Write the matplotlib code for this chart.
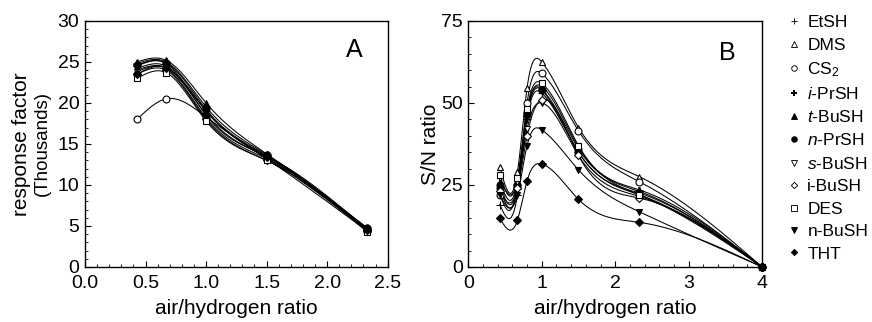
import numpy as np
import matplotlib
matplotlib.use("Agg")
import matplotlib.pyplot as plt
from matplotlib.lines import Line2D
from matplotlib.ticker import MultipleLocator

plt.rcParams["font.family"] = ["Liberation Sans", "DejaVu Sans"]
plt.rcParams["mathtext.fontset"] = "custom"
plt.rcParams["mathtext.rm"] = "Liberation Sans"
plt.rcParams["mathtext.it"] = "Liberation Sans:italic"

# ---------------------------------------------------------------- data
compounds = ["EtSH", "DMS", "CS$_2$", "$i$-PrSH", "$t$-BuSH", "$n$-PrSH",
             "$s$-BuSH", "i-BuSH", "DES", "n-BuSH", "THT"]

# panel A: response factor (thousands)
ratio_a = [0.43, 0.67, 1.0, 1.5, 2.33]
resp_etsh  = [24.5, 24.8, 18.5, 13.5, 4.6]
resp_dms   = [24.0, 24.3, 19.0, 13.3, 4.5]
resp_cs2   = [18.0, 20.5, 18.3, 13.2, 4.4]
resp_iprsh = [24.8, 25.0, 19.5, 13.7, 4.7]
resp_tbush = [25.0, 25.2, 20.0, 13.8, 4.8]
resp_nprsh = [24.6, 24.9, 19.2, 13.6, 4.7]
resp_sbush = [23.8, 24.2, 18.2, 13.2, 4.5]
resp_ibush = [23.5, 24.0, 18.0, 13.0, 4.4]
resp_des   = [23.0, 23.7, 17.8, 13.0, 4.3]
resp_nbush = [24.2, 24.5, 19.0, 13.5, 4.6]
resp_tht   = [23.5, 24.3, 18.6, 13.4, 4.5]

# panel B: S/N ratio
ratio_b = [0.43, 0.67, 0.8, 1.0, 1.5, 2.33, 4.0]
sn_etsh  = [19.0, 22.0, 45.0, 53.0, 35.0, 22.0, 0.0]
sn_dms   = [30.5, 29.0, 54.5, 62.5, 42.5, 27.5, 0.0]
sn_cs2   = [22.0, 25.0, 50.0, 59.0, 41.5, 26.0, 0.0]
sn_iprsh = [24.0, 24.0, 46.0, 54.0, 36.0, 23.0, 0.0]
sn_tbush = [26.0, 26.0, 47.0, 55.0, 36.5, 23.5, 0.0]
sn_nprsh = [25.0, 25.0, 47.0, 54.0, 35.0, 22.5, 0.0]
sn_sbush = [27.0, 26.0, 42.0, 50.0, 34.0, 21.5, 0.0]
sn_ibush = [23.0, 24.0, 40.0, 51.0, 34.0, 21.0, 0.0]
sn_des   = [28.0, 27.0, 48.0, 56.0, 37.0, 22.0, 0.0]
sn_nbush = [22.0, 22.0, 37.0, 41.8, 29.6, 16.8, 0.0]
sn_tht   = [14.8, 14.3, 26.2, 31.4, 20.6, 13.6, 0.0]

resp_all = [resp_etsh, resp_dms, resp_cs2, resp_iprsh, resp_tbush, resp_nprsh,
            resp_sbush, resp_ibush, resp_des, resp_nbush, resp_tht]
sn_all = [sn_etsh, sn_dms, sn_cs2, sn_iprsh, sn_tbush, sn_nprsh,
          sn_sbush, sn_ibush, sn_des, sn_nbush, sn_tht]

# marker, size, filled, edge width
styles = [("+", 6, True, 0.8), ("^", 5, False, 0.8), ("o", 5, False, 0.8),
          ("+", 6, True, 1.8), ("^", 5, True, 0.8), ("o", 5, True, 0.8),
          ("v", 5, False, 0.8), ("D", 4, False, 0.8), ("s", 5, False, 0.8),
          ("v", 5, True, 0.8), ("D", 4, True, 0.8)]


def natural_spline(x, y, n=300):
    # smooth connecting curve like the original plotting package
    x = np.asarray(x, float); y = np.asarray(y, float)
    k = len(x); h = np.diff(x)
    A = np.zeros((k, k)); b = np.zeros(k)
    A[0, 0] = A[-1, -1] = 1.0
    for i in range(1, k - 1):
        A[i, i - 1] = h[i - 1]; A[i, i] = 2 * (h[i - 1] + h[i]); A[i, i + 1] = h[i]
        b[i] = 6 * ((y[i + 1] - y[i]) / h[i] - (y[i] - y[i - 1]) / h[i - 1])
    M = np.linalg.solve(A, b)
    xs = np.linspace(x[0], x[-1], n)
    j = np.clip(np.searchsorted(x, xs) - 1, 0, k - 2)
    t0 = x[j + 1] - xs; t1 = xs - x[j]; hj = h[j]
    ys = (M[j] * t0**3 + M[j + 1] * t1**3) / (6 * hj) \
        + (y[j] / hj - M[j] * hj / 6) * t0 + (y[j + 1] / hj - M[j + 1] * hj / 6) * t1
    return xs, ys


def draw(ax, x, series):
    for y, (m, ms, filled, mew) in zip(series, styles):
        xs, ys = natural_spline(x, y)
        ax.plot(xs, ys, color="k", lw=0.75, zorder=2)
        ax.plot(x, y, ls="none", marker=m, ms=ms, mew=mew, mec="k",
                mfc="k" if filled else "white", zorder=3, clip_on=False)


def style_axes(ax):
    ax.tick_params(which="both", direction="in", top=False, right=False,
                   labelsize=14, colors="k")
    ax.tick_params(which="major", length=4, width=0.8)
    ax.tick_params(axis="x", which="major", pad=6)
    ax.tick_params(axis="y", which="major", pad=4)
    ax.tick_params(which="minor", length=2.5, width=0.6)
    for s in ax.spines.values():
        s.set_linewidth(1.0)


fig = plt.figure(figsize=(8.72, 3.22), dpi=100)
axA = fig.add_axes([0.0975, 0.171, 0.347, 0.764])
axB = fig.add_axes([0.537, 0.171, 0.337, 0.764])

draw(axA, ratio_a, resp_all)
axA.set_xlim(0, 2.5); axA.set_ylim(0, 30)
axA.xaxis.set_major_locator(MultipleLocator(0.5))
axA.xaxis.set_minor_locator(MultipleLocator(0.1))
axA.yaxis.set_major_locator(MultipleLocator(5))
axA.yaxis.set_minor_locator(MultipleLocator(1))
axA.xaxis.set_major_formatter(plt.FuncFormatter(lambda v, p: f"{v:.1f}"))
style_axes(axA)
axA.set_xlabel("air/hydrogen ratio", fontsize=15, labelpad=5)
axA.set_ylabel("response factor", fontsize=15, labelpad=19)
fig.text(0.049, 0.553, "(Thousands)", fontsize=13.5, rotation=90,
         ha="center", va="center")
axA.text(0.89, 0.88, "A", transform=axA.transAxes, fontsize=18,
         ha="center", va="center")

draw(axB, ratio_b, sn_all)
axB.set_xlim(0, 4); axB.set_ylim(0, 75)
axB.xaxis.set_major_locator(MultipleLocator(1))
axB.xaxis.set_minor_locator(MultipleLocator(0.2))
axB.yaxis.set_major_locator(MultipleLocator(25))
axB.yaxis.set_minor_locator(MultipleLocator(5))
style_axes(axB)
axB.set_xlabel("air/hydrogen ratio", fontsize=15, labelpad=5)
axB.set_ylabel("S/N ratio", fontsize=15, labelpad=1)
axB.text(0.88, 0.87, "B", transform=axB.transAxes, fontsize=18,
         ha="center", va="center")

handles = [Line2D([], [], ls="none", marker=m, ms=ms * 0.8, mew=mew * 0.8, mec="k",
                  mfc="k" if filled else "white")
           for (m, ms, filled, mew) in styles]
fig.legend(handles, compounds, loc="upper left", bbox_to_anchor=(0.897, 0.975),
           frameon=False, fontsize=12.5, handlelength=0.6, handletextpad=0.45,
           labelspacing=0.42, borderaxespad=0)

fig.savefig("out.png", dpi=100)
